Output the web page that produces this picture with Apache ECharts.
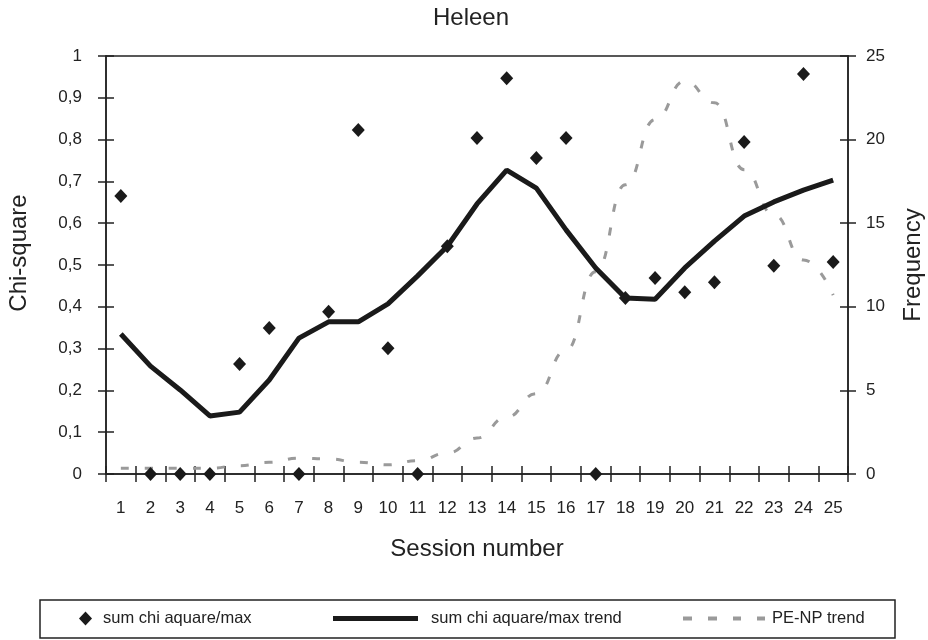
<!DOCTYPE html>
<html>
<head>
<meta charset="utf-8">
<script src="https://cdn.jsdelivr.net/npm/echarts@6/dist/echarts.min.js"></script>
<style>html,body{margin:0;padding:0;background:#fff}#c{width:928px;height:640px}</style>
</head>
<body>
<div id="c"></div>
<script>
const sessions = ['1','2','3','4','5','6','7','8','9','10','11','12','13','14','15','16','17','18','19','20','21','22','23','24','25'];
const chiMax = [0.665,0,0,0,0.263,0.349,0,0.388,0.823,0.301,0,0.545,0.804,0.947,0.756,0.804,0,0.421,0.469,0.435,0.459,0.794,0.498,0.957,0.507];
const chiTrend = [0.335,0.258,0.201,0.139,0.148,0.225,0.325,0.364,0.364,0.407,0.474,0.545,0.646,0.727,0.684,0.584,0.493,0.421,0.418,0.493,0.557,0.617,0.651,0.679,0.703];
const penpTrend = [0.35,0.35,0.35,0.35,0.5,0.7,0.95,0.9,0.7,0.55,0.8,1.25,2.15,3.4,4.8,7.4,12.1,17.3,21.2,23.5,22.2,18.2,15.5,12.8,10.7];
const leftTicks = {min:0, max:1, interval:0.1};
const rightTicks = {min:0, max:25, interval:5};

const FONT = 'Liberation Sans, Arial, sans-serif';
const INK = '#222';
const chart = echarts.init(document.getElementById('c'), null, {renderer:'canvas'});
const gridRect = {left:106, right:80, top:56, bottom:166, containLabel:false, outerBoundsMode:'none'};
const tickOut = () => ({show:true, inside:false, length:8, lineStyle:{color:INK, width:1.5}});
const tickIn = () => ({show:true, inside:true, length:8, lineStyle:{color:INK, width:1.5}});

chart.setOption({
  backgroundColor:'#fff',
  animation:false,
  textStyle:{fontFamily:FONT},
  title:{text:'Heleen', left:428, top:1, textStyle:{fontSize:24, fontWeight:'normal', color:INK, fontFamily:FONT}},
  grid:[
    Object.assign({show:true, borderColor:INK, borderWidth:1.5, backgroundColor:'transparent'}, gridRect),
    Object.assign({show:false}, gridRect)
  ],
  xAxis:[
    {type:'category', gridIndex:0, data:sessions, boundaryGap:true,
     axisLine:{show:true, lineStyle:{color:INK, width:1.5}}, axisTick:tickOut(),
     axisLabel:{margin:26, fontSize:17, color:INK, fontFamily:FONT, interval:0},
     name:'Session number', nameLocation:'middle', nameGap:63,
     nameTextStyle:{fontSize:24, color:INK, fontFamily:FONT},
     splitLine:{show:false}},
    {type:'category', gridIndex:1, data:sessions, boundaryGap:true,
     axisLine:{show:false}, axisTick:tickIn(), axisLabel:{show:false}, splitLine:{show:false}}
  ],
  yAxis:[
    {type:'value', gridIndex:0, position:'left', min:leftTicks.min, max:leftTicks.max, interval:leftTicks.interval,
     axisLine:{show:true, lineStyle:{color:INK, width:1.5}}, axisTick:tickOut(),
     axisLabel:{margin:24, fontSize:17, color:INK, fontFamily:FONT,
       formatter:v=>String(Math.round(v*10)/10).replace('.',',')},
     splitLine:{show:false},
     name:'Chi-square', nameLocation:'middle', nameGap:75, nameRotate:90,
     nameTextStyle:{fontSize:24, color:INK, fontFamily:FONT, padding:[0,0,0,24]}},
    {type:'value', gridIndex:0, position:'right', min:rightTicks.min, max:rightTicks.max, interval:rightTicks.interval,
     axisLine:{show:true, lineStyle:{color:INK, width:1.5}}, axisTick:tickOut(),
     axisLabel:{margin:18, fontSize:17, color:INK, fontFamily:FONT},
     splitLine:{show:false},
     name:'Frequency', nameLocation:'middle', nameGap:53, nameRotate:90,
     nameTextStyle:{fontSize:24, color:INK, fontFamily:FONT}},
    {type:'value', gridIndex:1, position:'left', min:leftTicks.min, max:leftTicks.max, interval:leftTicks.interval,
     axisLine:{show:false}, axisTick:tickIn(), axisLabel:{show:false}, splitLine:{show:false}},
    {type:'value', gridIndex:1, position:'right', min:rightTicks.min, max:rightTicks.max, interval:rightTicks.interval,
     axisLine:{show:false}, axisTick:tickIn(), axisLabel:{show:false}, splitLine:{show:false}}
  ],
  legend:[
    {data:[{name:'sum chi aquare/max', icon:'diamond', itemStyle:{color:'#1a1a1a', opacity:1}}], left:79, top:610, padding:0,
     itemWidth:13, itemHeight:14, textStyle:{fontSize:16.5, color:INK, fontFamily:FONT, padding:[0,0,0,6]}},
    {data:[{name:'sum chi aquare/max trend', icon:'rect', itemStyle:{color:'#1a1a1a'}}], left:333, top:610, padding:0,
     itemWidth:85, itemHeight:5, textStyle:{fontSize:16.5, color:INK, fontFamily:FONT, padding:[0,0,0,8]}},
    {data:[{name:'PE-NP trend', icon:'path://M0,0h9v4h-9z M25,0h9v4h-9z M50,0h8v4h-8z M74,0h8v4h-8z', itemStyle:{color:'#9a9a9a', borderWidth:0}}],
     left:683, top:610, padding:0, symbolKeepAspect:false,
     itemWidth:82, itemHeight:4, textStyle:{fontSize:16.5, color:INK, fontFamily:FONT, padding:[0,0,0,2]}}
  ],
  graphic:[
    {type:'rect', shape:{x:40, y:600, width:855, height:38}, style:{fill:'none', stroke:INK, lineWidth:1.5}, z:0}
  ],
  series:[
    {name:'PE-NP trend', type:'line', xAxisIndex:0, yAxisIndex:1, data:penpTrend, smooth:0.5, smoothMonotone:'x',
     symbol:'none', lineStyle:{color:'#9a9a9a', width:3, type:[8,16]}, itemStyle:{color:'#9a9a9a'}, z:2},
    {name:'sum chi aquare/max trend', type:'line', xAxisIndex:0, yAxisIndex:0, data:chiTrend,
     symbol:'none', lineStyle:{color:'#1a1a1a', width:5}, itemStyle:{color:'#1a1a1a'}, z:3},
    {name:'sum chi aquare/max', type:'scatter', xAxisIndex:0, yAxisIndex:0, data:chiMax, clip:false,
     symbol:'diamond', symbolSize:[13,14], itemStyle:{color:'#1a1a1a', opacity:1}, z:4}
  ]
});
</script>
</body>
</html>
